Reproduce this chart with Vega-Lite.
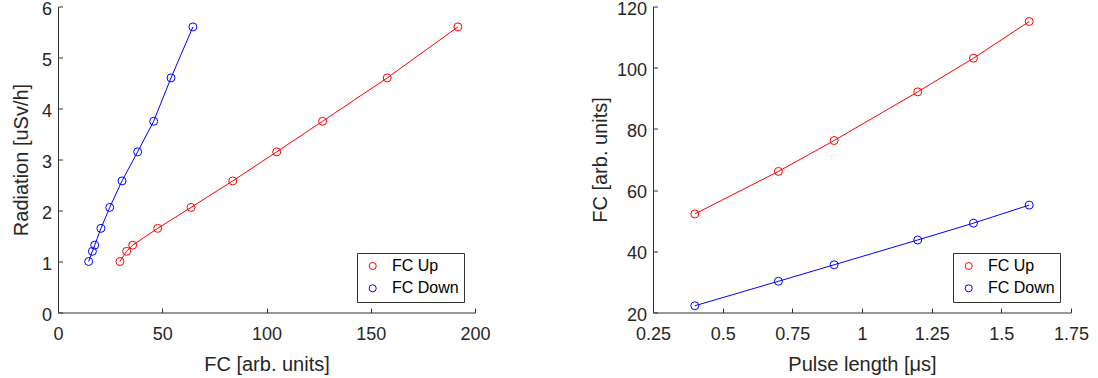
{
  "$schema": "https://vega.github.io/schema/vega-lite/v6.json",
  "background": "white",
  "padding": {"left": 11, "top": -0.5, "right": 5, "bottom": 0},
  "config": {
    "font": "Liberation Sans",
    "view": {"stroke": null},
    "axis": {
      "grid": false,
      "domainColor": "#333333",
      "domainWidth": 1,
      "tickColor": "#333333",
      "tickWidth": 1,
      "tickSize": -4.5,
      "labelColor": "#262626",
      "labelFontSize": 18,
      "labelFont": "Liberation Sans",
      "labelFlush": false,
      "labelOverlap": false,
      "titleColor": "#262626",
      "titleFontSize": 20,
      "titleFont": "Liberation Sans",
      "titleFontWeight": "normal"
    },
    "axisX": {"labelPadding": 17.9, "labelBaseline": "top"},
    "axisY": {"labelPadding": 11, "labelOffset": 2.5}
  },
  "datasets": {
    "radiation": [
      {"series": "FC Up", "fc": 29.7, "radiation": 1.0},
      {"series": "FC Up", "fc": 32.9, "radiation": 1.2},
      {"series": "FC Up", "fc": 35.8, "radiation": 1.32},
      {"series": "FC Up", "fc": 47.8, "radiation": 1.65},
      {"series": "FC Up", "fc": 63.8, "radiation": 2.06},
      {"series": "FC Up", "fc": 83.8, "radiation": 2.58},
      {"series": "FC Up", "fc": 104.9, "radiation": 3.15},
      {"series": "FC Up", "fc": 126.9, "radiation": 3.75},
      {"series": "FC Up", "fc": 157.9, "radiation": 4.6},
      {"series": "FC Up", "fc": 191.8, "radiation": 5.6},
      {"series": "FC Down", "fc": 14.7, "radiation": 1.0},
      {"series": "FC Down", "fc": 16.5, "radiation": 1.2},
      {"series": "FC Down", "fc": 17.6, "radiation": 1.32},
      {"series": "FC Down", "fc": 20.6, "radiation": 1.65},
      {"series": "FC Down", "fc": 24.8, "radiation": 2.06},
      {"series": "FC Down", "fc": 30.7, "radiation": 2.58},
      {"series": "FC Down", "fc": 38.2, "radiation": 3.15},
      {"series": "FC Down", "fc": 45.9, "radiation": 3.75},
      {"series": "FC Down", "fc": 54.2, "radiation": 4.6},
      {"series": "FC Down", "fc": 64.7, "radiation": 5.6}
    ],
    "pulse": [
      {"series": "FC Up", "pulse": 0.4, "fc": 52.2},
      {"series": "FC Up", "pulse": 0.7, "fc": 66.1},
      {"series": "FC Up", "pulse": 0.9, "fc": 76.2},
      {"series": "FC Up", "pulse": 1.2, "fc": 92.1},
      {"series": "FC Up", "pulse": 1.4, "fc": 103.1},
      {"series": "FC Up", "pulse": 1.6, "fc": 115.1},
      {"series": "FC Down", "pulse": 0.4, "fc": 22.2},
      {"series": "FC Down", "pulse": 0.7, "fc": 30.2},
      {"series": "FC Down", "pulse": 0.9, "fc": 35.6},
      {"series": "FC Down", "pulse": 1.2, "fc": 43.7},
      {"series": "FC Down", "pulse": 1.4, "fc": 49.2},
      {"series": "FC Down", "pulse": 1.6, "fc": 55.1}
    ]
  },
  "bounds": "flush",
  "spacing": 178,
  "resolve": {
    "scale": {"color": "independent"},
    "legend": {"color": "independent"}
  },
  "hconcat": [
    {
      "width": 417,
      "height": 306,
      "data": {"name": "radiation"},
      "encoding": {
        "x": {
          "field": "fc",
          "type": "quantitative",
          "scale": {"domain": [0, 200], "nice": false},
          "axis": {"title": "FC [arb. units]", "values": [0, 50, 100, 150, 200], "titleX": 208.5, "titleY": 58, "titleBaseline": "alphabetic", "titleAlign": "center"}
        },
        "y": {
          "field": "radiation",
          "type": "quantitative",
          "scale": {"domain": [0, 6], "nice": false},
          "axis": {"title": "Radiation [uSv/h]", "values": [0, 1, 2, 3, 4, 5, 6], "titleX": -31, "titleY": 153, "titleAngle": -90, "titleBaseline": "alphabetic", "titleAlign": "center"}
        }
      },
      "layer": [
        {
          "mark": {"type": "line", "strokeWidth": 1},
          "encoding": {
            "detail": {"field": "series", "type": "nominal"},
            "stroke": {"condition": {"test": "datum.series === 'FC Up'", "value": "#ff0000"}, "value": "#0000ff"}
          }
        },
        {
          "mark": {"type": "point", "filled": false, "size": 64, "strokeWidth": 1, "opacity": 1},
          "encoding": {
            "color": {
              "field": "series",
              "type": "nominal",
              "scale": {"domain": ["FC Up", "FC Down"], "range": ["#ff0000", "#0000ff"]},
              "legend": {
                "title": null,
                "orient": "none",
                "legendX": 299,
                "legendY": 246.5,
                "padding": 5,
                "strokeColor": "#333333",
                "fillColor": "white",
                "labelFont": "Liberation Sans",
                "labelFontSize": 16,
                "labelColor": "#000000",
                "symbolSize": 50,
                "symbolStrokeWidth": 1,
                "symbolType": "circle",
                "rowPadding": 6.3,
                "symbolOffset": 2.7,
                "labelOffset": 11.3
              }
            }
          }
        }
      ]
    },
    {
      "width": 418,
      "height": 306,
      "data": {"name": "pulse"},
      "encoding": {
        "x": {
          "field": "pulse",
          "type": "quantitative",
          "scale": {"domain": [0.25, 1.75], "nice": false, "zero": false},
          "axis": {"title": "Pulse length [μs]", "values": [0.25, 0.5, 0.75, 1, 1.25, 1.5, 1.75], "format": ".3~g", "titleX": 209, "titleY": 58, "titleBaseline": "alphabetic", "titleAlign": "center"}
        },
        "y": {
          "field": "fc",
          "type": "quantitative",
          "scale": {"domain": [20, 120], "nice": false, "zero": false},
          "axis": {"title": "FC [arb. units]", "values": [20, 40, 60, 80, 100, 120], "titleX": -47, "titleY": 153, "titleAngle": -90, "titleBaseline": "alphabetic", "titleAlign": "center"}
        }
      },
      "layer": [
        {
          "mark": {"type": "line", "strokeWidth": 1},
          "encoding": {
            "detail": {"field": "series", "type": "nominal"},
            "stroke": {"condition": {"test": "datum.series === 'FC Up'", "value": "#ff0000"}, "value": "#0000ff"}
          }
        },
        {
          "mark": {"type": "point", "filled": false, "size": 64, "strokeWidth": 1, "opacity": 1},
          "encoding": {
            "color": {
              "field": "series",
              "type": "nominal",
              "scale": {"domain": ["FC Up", "FC Down"], "range": ["#ff0000", "#0000ff"]},
              "legend": {
                "title": null,
                "orient": "none",
                "legendX": 300,
                "legendY": 246.5,
                "padding": 5,
                "strokeColor": "#333333",
                "fillColor": "white",
                "labelFont": "Liberation Sans",
                "labelFontSize": 16,
                "labelColor": "#000000",
                "symbolSize": 50,
                "symbolStrokeWidth": 1,
                "symbolType": "circle",
                "rowPadding": 6.3,
                "symbolOffset": 2.7,
                "labelOffset": 11.3
              }
            }
          }
        }
      ]
    }
  ]
}
